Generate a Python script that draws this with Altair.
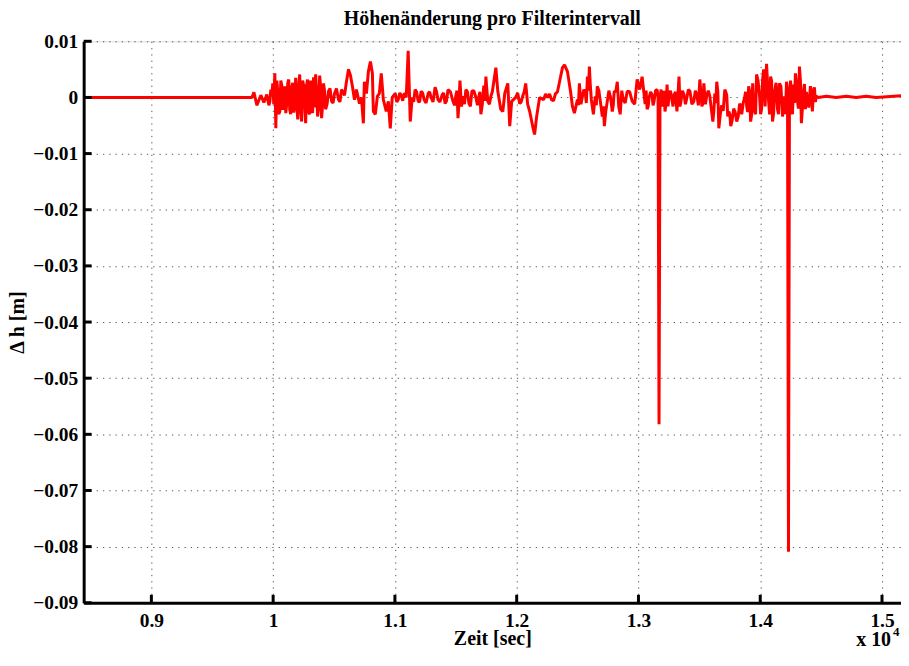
import altair as alt
import pandas as pd

# Time in seconds (axis shows x 10^4), height change in metres - main trace
zeit_sec = [
    8444, 9826, 9842, 9867, 9899, 9924, 9948, 9965, 9981, 9997,
    10014, 10022, 10038, 10055, 10071, 10087, 10104, 10120, 10136, 10153,
    10169, 10185, 10202, 10218, 10234, 10251, 10267, 10283, 10300, 10316,
    10349, 10365, 10382, 10398, 10414, 10431, 10455, 10480, 10504, 10537,
    10561, 10586, 10602, 10619, 10635, 10651, 10668, 10684, 10709, 10725,
    10741, 10749, 10766, 10782, 10799, 10815, 10823, 10839, 10856, 10872,
    10888, 10905, 10929, 10946, 10962, 10978, 11003, 11027, 11052, 11076,
    11093, 11109, 11126, 11142, 11166, 11191, 11215, 11240, 11273, 11297,
    11330, 11354, 11387, 11412, 11436, 11477, 11502, 11518, 11534, 11559,
    11583, 11608, 11632, 11665, 11690, 11706, 11730, 11747, 11763, 11788,
    11812, 11829, 11845, 11869, 11886, 11902, 11927, 11943, 11959, 11992,
    12025, 12049, 12074, 12107, 12131, 12147, 12164, 12188, 12221, 12254,
    12286, 12319, 12352, 12376, 12393, 12417, 12442, 12458, 12474, 12499,
    12515, 12540, 12564, 12581, 12597, 12613, 12630, 12646, 12662, 12687,
    12703, 12720, 12744, 12769, 12785, 12801, 12826, 12850, 12875, 12908,
    12949, 12989, 13030, 13055, 13071, 13088, 13112, 13128, 13153, 13161,
    13169, 13177, 13186, 13202, 13218, 13235, 13251, 13276, 13292, 13316,
    13333, 13349, 13374, 13398, 13423, 13455, 13480, 13504, 13521, 13537,
    13562, 13586, 13611, 13627, 13643, 13660, 13684, 13709, 13725, 13742,
    13758, 13782, 13807, 13831, 13848, 13872, 13889, 13905, 13921, 13938,
    13954, 13970, 13995, 14011, 14028, 14052, 14069, 14085, 14101, 14118,
    14142, 14158, 14183, 14199, 14216, 14232, 14240, 14257, 14273, 14289,
    14306, 14322, 14338, 14355, 14371, 14387, 14412, 14428, 14445, 14461,
    14477, 14543, 14624, 14706, 14788, 14870, 14951, 15156,
]
dh_m = [
    0, 0, 0.0009, -0.0014, 0.0004, -0.0009, 0.0005, -0.0014, 0.0014, 0.0025,
    0.0043, -0.0055, 0.0011, -0.0025, 0.0021, -0.0007, -0.0028, 0.0025, -0.0021, 0.0018,
    -0.0027, 0.0035, -0.0039, 0.0041, -0.0043, 0.0021, -0.0046, 0.0032, -0.0030, 0.0011,
    0.0041, -0.0034, 0.0039, -0.0037, 0.0025, -0.0021, 0.0011, -0.0007, 0.0007, -0.0004,
    0.0014, 0.0004, 0.0028, 0.0050, 0.0039, 0.0020, -0.0004, 0.0014, -0.0011, 0,
    -0.0046, 0.0028, 0.0007, 0.0046, 0.0064, 0.0043, -0.0025, -0.0030, 0.0002, 0.0007,
    0.0043, -0.0004, -0.0025, -0.0007, -0.0055, 0, 0.0007, -0.0004, 0.0004, 0.0007,
    0, 0.0083, -0.0043, 0, 0.0014, -0.0007, 0.0011, -0.0004, 0.0007, 0,
    0.0018, -0.0004, 0.0004, -0.0011, 0.0014, -0.0007, 0.0005, -0.0037, 0.0030, 0.0002,
    0.0014, -0.0011, 0.0011, 0, 0.0002, -0.0030, 0.0021, 0.0037, -0.0007, 0.0002,
    0.0028, 0.0053, 0.0011, -0.0021, -0.0025, 0.0007, 0.0025, -0.0051, -0.0007, 0,
    -0.0011, 0.0002, 0.0025, -0.0025, -0.0051, -0.0066, -0.0034, 0, -0.0004, 0,
    -0.0004, 0.0007, 0.0028, 0.0053, 0.0058, 0.0046, 0.0011, -0.0016, -0.0028, -0.0004,
    0.0025, 0.0002, 0.0007, 0.0037, 0.0055, -0.0004, -0.0030, 0.0002, 0.0020, -0.0007,
    -0.0034, -0.0051, -0.0007, 0.0002, -0.0025, 0.0011, 0.0028, -0.0030, -0.0004, 0.0011,
    -0.0007, 0.0032, 0.0037, -0.0012, -0.0021, 0, 0.0004, -0.0007, 0.0014, 0,
    -0.0582, 0, 0.0014, -0.0007, -0.0025, 0.0023, 0.0002, -0.0005, 0.0004, -0.0025,
    0.0037, -0.0007, 0.0005, 0, 0.0011, -0.0007, 0.0004, 0.0032, -0.0016, 0.0025,
    0.0005, 0.0002, -0.0043, 0.0007, 0.0028, -0.0055, -0.0014, 0.0014, 0.0004, -0.0025,
    -0.0051, -0.0020, -0.0043, -0.0011, -0.0030, 0, -0.0016, 0.0020, -0.0043, 0.0025,
    -0.0025, 0.0041, 0.0002, -0.0021, 0.0050, 0.0060, -0.0007, 0.0037, -0.0043, 0.0011,
    -0.0021, 0.0025, -0.0034, 0.0002, 0.0028, -0.0809, 0, -0.0007, 0.0023, 0.0043,
    -0.0007, 0.0055, -0.0046, 0.0011, -0.0021, -0.0004, 0.0020, -0.0025, 0.0018, 0.0002,
    0, 0.0002, 0, 0.0002, 0, 0.0002, 0, 0.0003,
]
# extra samples read from the densest (band-like) stretches of the trace
zeit_extra = [
    9973, 9989, 10005, 10030, 10046, 10063, 10079, 10095, 10112, 10128,
    10144, 10161, 10177, 10193, 10210, 10226, 10242, 10259, 10275, 10291,
    10308, 10324, 10332, 10340, 10357, 10373, 10390, 10406, 10422, 10443,
    10467, 10492, 10520, 10549,
    11015, 11040, 11064, 11084, 11154, 11178, 11203, 11228, 11256, 11285,
    11313, 11342, 11370, 11400, 11424,
    11456, 11490, 11510, 11526, 11547, 11571, 11596, 11620, 11648, 11678,
    11698, 11718, 11739, 11755, 11776, 11800,
    12008, 12037, 12062, 12090, 12237, 12270, 12302, 12335,
    12507, 12528, 12552, 12572, 12589, 12605, 12621, 12638, 12654, 12675,
    12695, 12712, 12732, 12757, 12777, 12793, 12814, 12838, 12863, 12891,
    12928, 12969, 13010,
    13063, 13080, 13100, 13120, 13140, 13194, 13210, 13227, 13243, 13263,
    13284, 13304, 13341, 13361, 13386, 13410, 13439, 13467, 13492, 13512,
    13529, 13550, 13574, 13598, 13619, 13635, 13652, 13672, 13696, 13717,
    13733, 13750, 13770, 13794, 13819, 13839, 13860, 13880, 13897, 13913,
    13930,
    13946, 13962, 13982, 14003, 14019, 14040, 14060, 14077, 14093, 14110,
    14130, 14150, 14170, 14191, 14207, 14224, 14249, 14265, 14281, 14297,
    14314, 14330, 14346, 14363, 14379, 14399, 14420, 14436, 14453,
]
dh_extra = [
    -0.0008, 0.0002, -0.0012, 0.0030, -0.0030, 0.0030, -0.0022, 0.0020, -0.0010, 0.0032,
    -0.0030, 0.0026, -0.0016, -0.0008, 0.0020, -0.0022, 0.0030, -0.0010, 0.0022, -0.0026,
    0.0030, -0.0028, 0.0036, -0.0018, 0.0010, -0.0020, 0.0020, -0.0014, 0.0012, -0.0012,
    0.0016, -0.0010, 0.0016, -0.0008,
    -0.0008, 0.0008, -0.0006, 0.0006, -0.0008, 0.0010, -0.0008, 0.0008, -0.0010, 0.0010,
    -0.0008, 0.0010, -0.0008, 0.0008, -0.0006,
    0.0010, -0.0014, 0.0012, -0.0010, -0.0016, -0.0012, 0.0010, -0.0016, 0.0012, -0.0014,
    0.0010, -0.0012, -0.0006, 0.0014, -0.0012, 0.0010,
    0.0008, -0.0008, 0.0010, -0.0012, 0.0006, 0.0006, -0.0006, 0.0010,
    -0.0014, -0.0012, 0.0014, -0.0010, 0.0012, 0.0020, -0.0016, -0.0012, -0.0014, 0.0012,
    -0.0020, -0.0016, -0.0024, 0.0012, -0.0010, -0.0014, 0.0010, -0.0016, 0.0012, -0.0010,
    0.0010, -0.0012, 0.0014,
    0.0012, -0.0016, 0.0010, -0.0014, 0.0012, -0.0016, 0.0012, -0.0010, -0.0016, 0.0012,
    -0.0016, 0.0010, -0.0016, 0.0012, -0.0012, 0.0014, -0.0012, 0.0012, -0.0014, 0.0010,
    -0.0010, -0.0012, 0.0012, -0.0020, -0.0024, -0.0010, 0.0010, -0.0030, -0.0024, 0.0010,
    -0.0034, -0.0030, -0.0040, -0.0026, -0.0034, -0.0016, -0.0010, 0.0010, -0.0026, 0.0010,
    -0.0030,
    -0.0020, -0.0030, 0.0030, -0.0030, 0.0030, -0.0016, 0.0026, -0.0030, 0.0030, -0.0028,
    0.0026, -0.0030, 0.0020, -0.0018, -0.0030, 0.0010, 0.0030, -0.0030, -0.0010, 0.0026,
    -0.0020, 0.0030, -0.0020, 0.0024, 0.0010, -0.0018, 0.0012, 0.0006, -0.0008,
]
assert len(zeit_sec) == len(dh_m) and len(zeit_extra) == len(dh_extra)

x_ticks = [9000, 10000, 11000, 12000, 13000, 14000, 15000]
y_ticks = [-0.09, -0.08, -0.07, -0.06, -0.05, -0.04, -0.03, -0.02, -0.01, 0, 0.01]
x_domain = [8444, 15156]
y_domain = [-0.09, 0.01]

title_text = "Höhenänderung pro Filterintervall"
x_title = "Zeit [sec]"
y_title = "Δ h [m]"

W, H = 821, 564
FONT = "Liberation Serif"

df = pd.DataFrame({"t": zeit_sec + zeit_extra, "dh": dh_m + dh_extra}).sort_values("t")
xt = pd.DataFrame({"t": x_ticks})
yt = pd.DataFrame({"dh": y_ticks})

xscale = alt.Scale(domain=x_domain, nice=False, zero=False)
yscale = alt.Scale(domain=y_domain, nice=False, zero=False)

common = dict(grid=True, gridDash=[1.3, 5], gridColor="#3a3a3a", gridWidth=1, gridOpacity=0.85,
              domain=True, domainColor="black", domainWidth=3,
              ticks=False, labelFont=FONT, labelFontSize=19.5, labelFontWeight="bold",
              labelColor="black", titleFont=FONT, titleFontSize=20, titleFontWeight="bold",
              titleColor="black")

x_axis = alt.Axis(values=x_ticks, labelExpr="'' + datum.value/10000", title=x_title,
                  labelPadding=9, titleX=W / 2, titleY=42, titleAlign="center",
                  titleBaseline="alphabetic", **common)
y_axis = alt.Axis(values=y_ticks, format=".2~f", title=y_title, labelPadding=6,
                  titleX=-60, titleY=H / 2, titleAngle=270, titleAlign="center",
                  titleBaseline="alphabetic", **common)

line = alt.Chart(df).mark_line(color="#ff0000", strokeWidth=3, strokeJoin="bevel", clip=True).encode(
    x=alt.X("t:Q", scale=xscale, axis=x_axis, sort=None),
    y=alt.Y("dh:Q", scale=yscale, axis=y_axis),
)

# inward (MATLAB style) tick marks
xtick = alt.Chart(xt).mark_rule(color="black", strokeWidth=3).encode(
    x=alt.X("t:Q", scale=xscale, axis=x_axis), y=alt.value(H), y2=alt.value(H - 8))
ytick = alt.Chart(yt).mark_rule(color="black", strokeWidth=3).encode(
    y=alt.Y("dh:Q", scale=yscale, axis=y_axis), x=alt.value(0), x2=alt.value(8))

txt = dict(font=FONT, fontWeight="bold", color="black", baseline="alphabetic")
title_mark = alt.Chart(pd.DataFrame({"s": [title_text]})).mark_text(
    fontSize=20, align="center", **txt
).encode(text="s:N", x=alt.value(W / 2), y=alt.value(-16))
exp_base = alt.Chart(pd.DataFrame({"s": ["x 10"]})).mark_text(
    fontSize=20, align="right", **txt
).encode(text="s:N", x=alt.value(811), y=alt.value(607))
exp_pow = alt.Chart(pd.DataFrame({"s": ["4"]})).mark_text(
    fontSize=13, align="left", **txt
).encode(text="s:N", x=alt.value(813), y=alt.value(597))

chart = alt.layer(line, xtick, ytick, title_mark, exp_base, exp_pow).properties(
    width=W, height=H,
    autosize=alt.AutoSizeParams(type="none"),
    padding={"left": 76, "top": 32, "right": 0, "bottom": 46},
).configure_view(stroke=None).configure(background="white")

chart.save("out.html", embed_options={"renderer": "svg", "actions": False})
